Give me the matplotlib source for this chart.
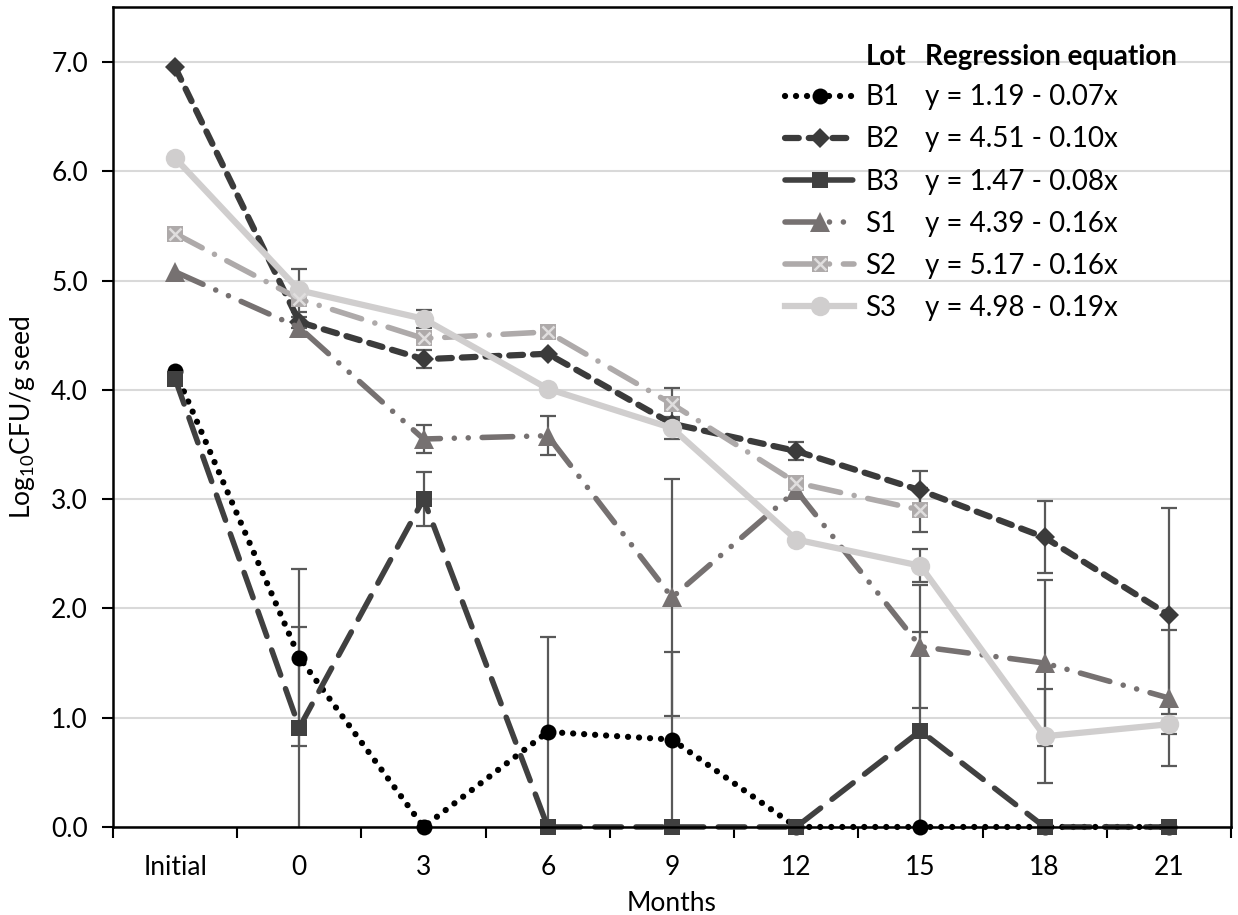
import numpy as np
import matplotlib.pyplot as plt
from matplotlib.lines import Line2D

plt.rcParams['font.family'] = ['Lato', 'DejaVu Sans']
plt.rcParams['mathtext.default'] = 'regular'

months = ["Initial", "0", "3", "6", "9", "12", "15", "18", "21"]
lots = ["B1", "B2", "B3", "S1", "S2", "S3"]
equations = ["y = 1.19 - 0.07x", "y = 4.51 - 0.10x", "y = 1.47 - 0.08x",
             "y = 4.39 - 0.16x", "y = 5.17 - 0.16x", "y = 4.98 - 0.19x"]

nan = np.nan
b1 = [4.17, 1.55, 0.00, 0.87, 0.80, 0.00, 0.00, 0.00, 0.00]
b2 = [6.95, 4.62, 4.28, 4.33, 3.69, 3.44, 3.08, 2.65, 1.94]
b3 = [4.10, 0.91, 3.00, 0.00, 0.00, 0.00, 0.88, 0.00, 0.00]
s1 = [5.08, 4.57, 3.55, 3.58, 2.10, 3.08, 1.65, 1.50, 1.18]
s2 = [5.43, 4.83, 4.47, 4.53, 3.87, 3.15, 2.90, nan, nan]
s3 = [6.12, 4.91, 4.65, 4.01, 3.65, 2.63, 2.39, 0.83, 0.94]

b1_err = [0, 0.81, 0, 0.87, 0.80, 0, 0, 0, 0]
b2_err = [0, 0.05, 0.08, 0, 0.05, 0.08, 0.18, 0.33, 0.98]
b3_err = [0, 0.92, 0.25, 0, 0, 0, 0.90, 0, 0]
s1_err = [0, 0, 0.13, 0.18, 1.08, 0, 0.56, 0.76, 0.62]
s2_err = [0, 0, 0.05, 0, 0.15, 0.05, 0.20, 0, 0]
s3_err = [0, 0.20, 0.08, 0, 0.10, 0, 0.15, 0.43, 0.09]

values = [b1, b2, b3, s1, s2, s3]
errors = [b1_err, b2_err, b3_err, s1_err, s2_err, s3_err]

styles = [
    dict(color="#000000", lw=4.5, ls=(0, (0.01, 1.75)), marker="o", ms=11.5),
    dict(color="#3b3b3b", lw=4.5, ls=(0, (2.2, 1.6)), marker="D", ms=10.5),
    dict(color="#404040", lw=4.0, ls=(0, (4.8, 2.6)), marker="s", ms=11),
    dict(color="#767171", lw=4.0, ls=(0, (5.5, 2.5, 0.01, 2.5, 0.01, 2.5)), marker="^", ms=14),
    dict(color="#aeaaaa", lw=4.0, ls=(0, (5.5, 2.5, 0.01, 2.5)), marker="s", ms=12),
    dict(color="#d0cece", lw=4.5, ls="-", marker="o", ms=14),
]

fig = plt.figure(figsize=(12.38, 9.15), dpi=100)
ax = fig.add_axes([0.0913, 0.0962, 0.9030, 0.8958])

x = np.arange(len(months))
handles = []
for vals, err, st in zip(values, errors, styles):
    vals = np.array(vals, dtype=float)
    err = np.array(err, dtype=float)
    m = err > 0
    ax.errorbar(x[m], vals[m], yerr=err[m], fmt="none", ecolor="#595959",
                elinewidth=1.6, capsize=6, capthick=1.6, zorder=2)
    line, = ax.plot(x, vals, color=st["color"], lw=st["lw"], ls=st["ls"],
                    dash_capstyle="round", marker=st["marker"], ms=st["ms"],
                    markeredgewidth=0, zorder=3, clip_on=False)
    handles.append(line)

# S2 marker cross
xline, = ax.plot(x, s2, ls="none", marker="x", ms=9, mew=1.8, color="#e0dede",
                 zorder=3, clip_on=False)
handles[4] = (handles[4], xline)

ax.set_xlim(-0.5, len(months) - 0.5)
ax.set_ylim(0, 7.5)
ax.set_yticks(np.arange(0, 7.01, 1.0))
ax.set_yticklabels(["%.1f" % v for v in np.arange(0, 7.01, 1.0)])
ax.set_xticks(x)
ax.set_xticklabels(months)
ax.set_xticks(np.arange(-0.5, len(months), 1.0), minor=True)
ax.tick_params(axis="x", which="major", length=0, pad=20, labelsize=19)
ax.tick_params(axis="x", which="minor", length=8, width=1.5, direction="out")
ax.tick_params(axis="y", length=8, width=1.5, direction="out", labelsize=19, pad=10)
ax.grid(axis="y", color="#d9d9d9", lw=1.5, zorder=0)
ax.set_axisbelow(True)
for sp in ax.spines.values():
    sp.set_linewidth(1.8)
    sp.set_zorder(4)

ax.set_xlabel("Months", fontsize=19, labelpad=8)
ax.set_ylabel("Log$_{10}$CFU/g seed", fontsize=19, labelpad=10)

leg1 = ax.legend(handles, lots, loc="upper left", bbox_to_anchor=(0.601, 0.906),
                 frameon=False, fontsize=20, handlelength=2.5, handletextpad=0.4,
                 labelspacing=0.58, borderpad=0, borderaxespad=0)
ax.add_artist(leg1)
blank = [Line2D([], [], ls="none") for _ in lots]
leg2 = ax.legend(blank, equations, loc="upper left", bbox_to_anchor=(0.726, 0.906),
                 frameon=False, fontsize=20, handlelength=0, handletextpad=0,
                 labelspacing=0.58, borderpad=0, borderaxespad=0)
ax.text(0.6735, 0.939, "Lot", transform=ax.transAxes, fontsize=20, fontweight="bold",
        va="center", ha="left")
ax.text(0.726, 0.939, "Regression equation", transform=ax.transAxes, fontsize=20,
        fontweight="bold", va="center", ha="left")

fig.savefig("out.png", dpi=100)
